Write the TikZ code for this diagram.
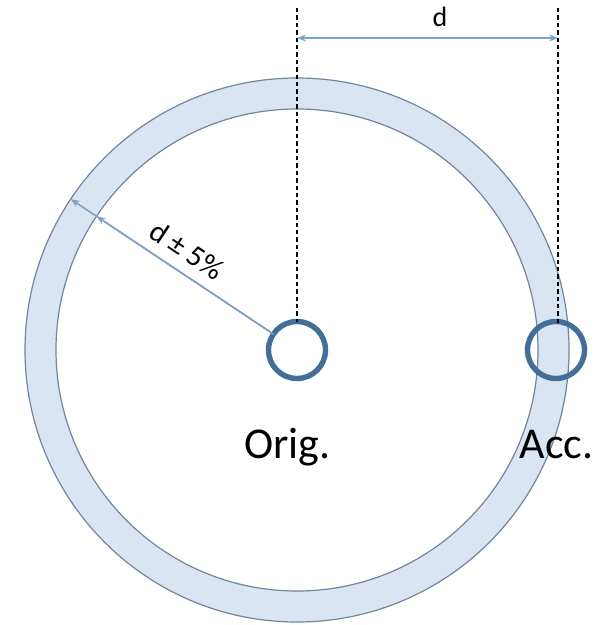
\documentclass[tikz,border=0pt]{standalone}
\usepackage{fontspec}
\setmainfont{Carlito}
\usetikzlibrary{calc,arrows.meta}
\definecolor{ringfill}{RGB}{218,229,243}
\definecolor{ringline}{RGB}{115,132,155}
\definecolor{arrowcol}{RGB}{128,162,198}
\definecolor{circcol}{RGB}{66,110,152}
\tikzset{
  ringedge/.style={draw=ringline, line width=0.6pt},
  marker/.style={circle, draw=circcol, line width=2.7pt, inner sep=0pt, minimum size=28.5pt, outer sep=0pt},
  guide/.style={draw=black, line width=0.7pt, dash pattern=on 2.2pt off 1.5pt},
  dimarrow/.style={draw=arrowcol, line width=0.8pt, arrows={-Stealth[length=4.5pt,width=3.5pt]}},
  bigtext/.style={font=\fontsize{22}{26}\selectfont, anchor=base, inner sep=0pt},
}
\begin{document}
\begin{tikzpicture}[x=0.5pt,y=-0.5pt]
\useasboundingbox (0,0) rectangle (596,625);
\coordinate (c) at (297,350);
% ring
\fill[ringfill, even odd rule] (c) circle (136pt) (c) circle (120.5pt);
\draw[ringedge] (c) circle (136pt);
\draw[ringedge] (c) circle (120.5pt);
% markers
\node[marker] (orig) at (c) {};
\node[marker] (acc) at (556,350) {};
% guides
\coordinate (ltop) at (297,8);
\coordinate (rtop) at (558,8);
\coordinate (rbot) at (558,326);
\draw[guide] (ltop) -- (orig.north);
\draw[guide] (rtop) -- (rbot);
% horizontal dimension
\coordinate (al) at (297,38);
\coordinate (ar) at (558,38);
\draw[dimarrow, arrows={Stealth[length=4.5pt,width=3.5pt]-Stealth[length=4.5pt,width=3.5pt]}] (al) -- (ar);
\node[font=\fontsize{14}{16}\selectfont, anchor=base, inner sep=0pt] (dlab) at (440,27) {d};
% radial dimension
\coordinate (outerpt) at ($(c)+(146.3:136pt)$);
\coordinate (innerpt) at ($(c)+(146.3:120.5pt)$);
\draw[dimarrow] (orig.146.3) -- (outerpt);
\draw[dimarrow] (orig.146.3) -- (innerpt);
\node[font=\fontsize{15}{18}\selectfont, rotate=-33.7, inner sep=0pt] (rlab) at ($(c)+(146.3:73.5pt)+(56.3:11pt)$) {d ± 5\%};
% labels
\node[bigtext] (origlab) at (287.5,458) {Orig.};
\node[bigtext] (acclab) at (556.5,458) {Acc.};
\end{tikzpicture}
\end{document}
